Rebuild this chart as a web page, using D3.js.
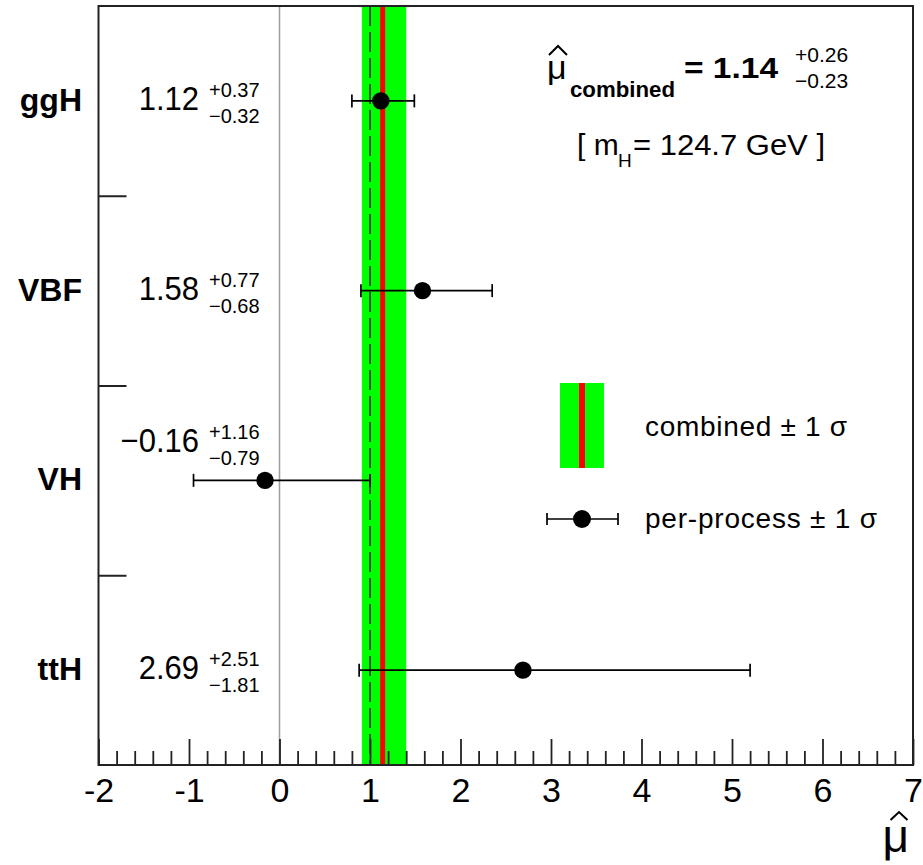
<!DOCTYPE html>
<html>
<head>
<meta charset="utf-8">
<script src="https://cdn.jsdelivr.net/npm/d3@7"></script>
<style>
  body { margin: 0; background: #fff; }
  svg { display: block; }
  text { font-family: "Liberation Sans", Arial, Helvetica, sans-serif; fill: #000; }
</style>
</head>
<body>
<svg id="chart" width="923" height="865"></svg>
<script>
// Signal-strength measurements per production process
const processes = ["ggH", "VBF", "VH", "ttH"];
const muValues  = [1.12, 1.58, -0.16, 2.69];
const errUp     = [0.37, 0.77, 1.16, 2.51];
const errDown   = [0.32, 0.68, 0.79, 1.81];

// Combined result
const combinedMu   = 1.14;
const combinedUp   = 0.26;
const combinedDown = 0.23;
const higgsMass    = "124.7";

// Axis ticks
const majorTicks = [-2, -1, 0, 1, 2, 3, 4, 5, 6, 7];
const minorStep  = 0.2;

const svg = d3.select("#chart");
const frame = { left: 98.5, right: 913, top: 6, bottom: 765 };

const x = d3.scaleLinear().domain([majorTicks[0], majorTicks[majorTicks.length - 1]])
  .range([frame.left, frame.right]);
const y = d3.scaleBand().domain(processes).range([frame.top, frame.bottom]).padding(0);
const yc = p => y(p) + y.bandwidth() / 2;

const fmt = d3.format(".2f");
const GREEN = "#00ff00", RED = "#ff0000";

const rows = processes.map((p, i) => ({
  name: p, mu: muValues[i], up: errUp[i], down: errDown[i]
}));

// ---- combined band, central value and SM reference ----
svg.append("rect")
  .attr("x", x(combinedMu - combinedDown))
  .attr("y", frame.top)
  .attr("width", x(combinedMu + combinedUp) - x(combinedMu - combinedDown))
  .attr("height", frame.bottom - frame.top)
  .attr("fill", GREEN);

svg.append("line")
  .attr("x1", x(combinedMu)).attr("x2", x(combinedMu))
  .attr("y1", frame.top).attr("y2", frame.bottom)
  .attr("stroke", RED).attr("stroke-width", 5);

svg.append("line")
  .attr("x1", x(1)).attr("x2", x(1))
  .attr("y1", frame.top).attr("y2", frame.bottom)
  .attr("stroke", "#111").attr("stroke-width", 1.4)
  .attr("stroke-dasharray", "20,6");

svg.append("line")
  .attr("x1", x(0)).attr("x2", x(0))
  .attr("y1", frame.top).attr("y2", frame.bottom)
  .attr("stroke", "#a0a0a0").attr("stroke-width", 1.6);

// ---- per-process error bars ----
const capH = 13;
const bars = svg.append("g").selectAll("g").data(rows).join("g");
bars.append("line")
  .attr("x1", d => x(d.mu - d.down)).attr("x2", d => x(d.mu + d.up))
  .attr("y1", d => yc(d.name)).attr("y2", d => yc(d.name))
  .attr("stroke", "#000").attr("stroke-width", 1.7);
bars.append("line")
  .attr("x1", d => x(d.mu - d.down)).attr("x2", d => x(d.mu - d.down))
  .attr("y1", d => yc(d.name) - capH / 2).attr("y2", d => yc(d.name) + capH / 2)
  .attr("stroke", "#000").attr("stroke-width", 1.7);
bars.append("line")
  .attr("x1", d => x(d.mu + d.up)).attr("x2", d => x(d.mu + d.up))
  .attr("y1", d => yc(d.name) - capH / 2).attr("y2", d => yc(d.name) + capH / 2)
  .attr("stroke", "#000").attr("stroke-width", 1.7);
bars.append("circle")
  .attr("cx", d => x(d.mu)).attr("cy", d => yc(d.name))
  .attr("r", 8.7).attr("fill", "#000");

// ---- value labels: raised above the bar when the point sits under the label ----
const labelRight = 199;
const labelY = d => x(d.mu) < labelRight + 70 ? yc(d.name) - 28 : yc(d.name) + 9;
const vl = svg.append("g").selectAll("g").data(rows).join("g");
vl.append("text")
  .attr("x", labelRight).attr("y", labelY)
  .attr("text-anchor", "end").attr("font-size", 31)
  .attr("transform", d => `translate(0,${labelY(d)}) scale(1,1.08) translate(0,${-labelY(d)})`)
  .text(d => fmt(d.mu));
vl.append("text")
  .attr("x", labelRight + 10).attr("y", d => labelY(d) - 13)
  .attr("font-size", 20)
  .text(d => "+" + fmt(d.up));
vl.append("text")
  .attr("x", labelRight + 10).attr("y", d => labelY(d) + 13)
  .attr("font-size", 20)
  .text(d => "\u2212" + fmt(d.down));

// ---- category labels ----
svg.append("g").selectAll("text").data(processes).join("text")
  .attr("x", 82).attr("y", p => yc(p) + 10)
  .attr("text-anchor", "end").attr("font-size", 32).attr("font-weight", "bold")
  .text(p => p);

// ---- frame ----
svg.append("rect")
  .attr("x", frame.left).attr("y", frame.top)
  .attr("width", frame.right - frame.left).attr("height", frame.bottom - frame.top)
  .attr("fill", "none").attr("stroke", "#222").attr("stroke-width", 2);

// ---- x axis (ticks inside the frame) ----
const minorTicks = d3.range(majorTicks[0], majorTicks[majorTicks.length - 1] + 1e-9, minorStep)
  .filter(v => Math.abs(v - Math.round(v)) > 1e-6);

const axMinor = d3.axisBottom(x).tickValues(minorTicks).tickSize(-14).tickFormat("").tickSizeOuter(0);
const axMajor = d3.axisBottom(x).tickValues(majorTicks).tickSize(-26).tickSizeOuter(0)
  .tickPadding(12).tickFormat(d => String(d));

const gMinor = svg.append("g").attr("transform", `translate(0,${frame.bottom})`).call(axMinor);
const gMajor = svg.append("g").attr("transform", `translate(0,${frame.bottom})`).call(axMajor);
[gMinor, gMajor].forEach(g => {
  g.select(".domain").remove();
  g.selectAll(".tick line").attr("stroke", "#222").attr("stroke-width", 1.8);
});
gMajor.selectAll(".tick text")
  .attr("font-size", 34).attr("fill", "#000").attr("dy", null).attr("y", 37)
  .attr("font-family", "'Liberation Sans', Arial, sans-serif");

// ---- y axis ticks at category boundaries ----
const yAxis = d3.axisRight(d3.scaleLinear().domain([frame.top, frame.bottom]).range([frame.top, frame.bottom]))
  .tickValues(processes.slice(1).map(p => y(p)))
  .tickSize(28).tickFormat("").tickSizeOuter(0);
const gy = svg.append("g").attr("transform", `translate(${frame.left},0)`).call(yAxis);
gy.select(".domain").remove();
gy.selectAll(".tick line").attr("stroke", "#222").attr("stroke-width", 2);

// ---- x-axis title: mu-hat ----
const hat = (cx, top, w, h) => `M${cx - w / 2},${top + h} L${cx},${top} L${cx + w / 2},${top + h}`;
svg.append("text")
  .attr("x", 909).attr("y", 852).attr("text-anchor", "end")
  .attr("font-size", 46).text("\u03bc");
svg.append("path").attr("d", hat(899, 812, 17, 8))
  .attr("fill", "none").attr("stroke", "#000").attr("stroke-width", 2);

// ---- combined result annotation ----
svg.append("text").attr("x", 547).attr("y", 79).attr("font-size", 34).text("\u03bc");
svg.append("path").attr("d", hat(558, 46, 18, 9))
  .attr("fill", "none").attr("stroke", "#000").attr("stroke-width", 2);
svg.append("text").attr("x", 570).attr("y", 97).attr("font-size", 22).attr("font-weight", "bold")
  .attr("textLength", 105).attr("lengthAdjust", "spacingAndGlyphs")
  .text("combined");
svg.append("text").attr("x", 684).attr("y", 78).attr("font-size", 30).attr("font-weight", "bold")
  .attr("textLength", 94).attr("lengthAdjust", "spacingAndGlyphs")
  .text("= " + fmt(combinedMu));
svg.append("text").attr("x", 795).attr("y", 62).attr("font-size", 21).text("+" + fmt(combinedUp));
svg.append("text").attr("x", 795).attr("y", 88).attr("font-size", 21).text("\u2212" + fmt(combinedDown));

svg.append("text").attr("x", 577).attr("y", 155).attr("font-size", 30).text("[ m");
svg.append("text").attr("x", 618).attr("y", 167).attr("font-size", 19).text("H");
svg.append("text").attr("x", 633).attr("y", 155).attr("font-size", 30)
  .attr("textLength", 192).attr("lengthAdjust", "spacingAndGlyphs")
  .text(`= ${higgsMass} GeV ]`);

// ---- legend ----
const lg = svg.append("g");
lg.append("rect").attr("x", 560).attr("y", 383).attr("width", 44).attr("height", 85).attr("fill", GREEN);
lg.append("line").attr("x1", 582).attr("x2", 582).attr("y1", 383).attr("y2", 468)
  .attr("stroke", RED).attr("stroke-width", 6);
lg.append("text").attr("x", 645).attr("y", 436).attr("font-size", 28)
  .attr("textLength", 202).attr("lengthAdjust", "spacing")
  .text("combined \u00b1 1 \u03c3");

const ly = 519;
lg.append("line").attr("x1", 547).attr("x2", 618).attr("y1", ly).attr("y2", ly)
  .attr("stroke", "#000").attr("stroke-width", 1.7);
[547, 618].forEach(cx => lg.append("line").attr("x1", cx).attr("x2", cx)
  .attr("y1", ly - 6).attr("y2", ly + 6).attr("stroke", "#000").attr("stroke-width", 1.7));
lg.append("circle").attr("cx", 582).attr("cy", ly).attr("r", 9).attr("fill", "#000");
lg.append("text").attr("x", 645).attr("y", 528).attr("font-size", 28)
  .attr("textLength", 232).attr("lengthAdjust", "spacing")
  .text("per-process \u00b1 1 \u03c3");
</script>
</body>
</html>
